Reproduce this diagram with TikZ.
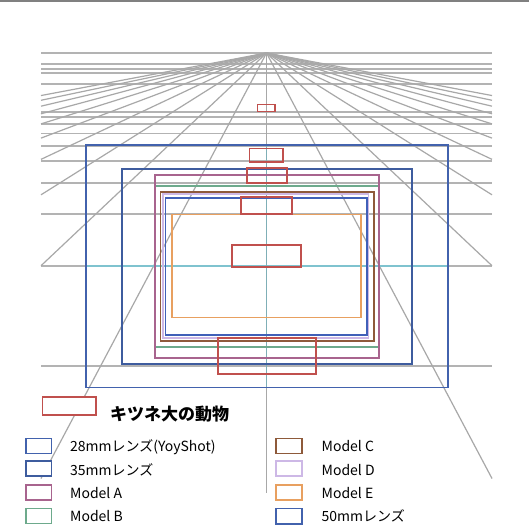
\documentclass[tikz,border=0pt]{standalone}
\usepackage{fontspec}
\newfontfamily\jp{Noto Sans CJK JP}
\definecolor{hgray}{HTML}{B3B3B3}
\definecolor{rgray}{HTML}{A8A8A8}
\definecolor{teal1}{HTML}{7FC3CF}
\definecolor{foxred}{HTML}{C0504D}
\definecolor{blueA}{HTML}{4262AD}
\definecolor{blueB}{HTML}{3E5C9E}
\definecolor{blueC}{HTML}{4060B8}
\definecolor{mauve}{HTML}{A8648E}
\definecolor{mgreen}{HTML}{6DAA8C}
\definecolor{mbrown}{HTML}{8E5A3A}
\definecolor{mlav}{HTML}{CDB8E6}
\definecolor{morange}{HTML}{E8A060}
\begin{document}
\begin{tikzpicture}[x=1pt,y=-1pt,
  hgrid/.style={draw=hgray,line width=1.8pt},
  rgrid/.style={draw=rgray,line width=1.2pt},
  frame/.style={line width=1.9pt},
  foxbox/.style={draw=foxred,line width=1.7pt},
  legbox/.style={line width=1.5pt,fill=white},
  legtext/.style={anchor=base west,inner sep=0pt,font=\jp\fontsize{14}{16}\selectfont},
]
\useasboundingbox (0,0) rectangle (529,530);
\fill[white] (0,0) rectangle (529,530);
\draw[draw=gray,line width=1.6pt] (0,0.8) -- (529,0.8);
% horizontal grid
\foreach \y in {53,64.3,68.7,73.3,83.7,111.7,117.3,124.2,133.5,146,160.7,182.7,214,266,366}
  \draw[hgrid] (41,\y) -- (492,\y);
% radial grid
\coordinate (vp) at (266.5,53);
\coordinate (vbot) at (266.5,493);
\foreach \k in {1,...,10} {
  \pgfmathsetmacro\dy{225.5/(0.53*\k)}
  \draw[rgrid] (vp) -- ++(-225.5,\dy);
  \draw[rgrid] (vp) -- ++(225.5,\dy);
}
\draw[rgrid] (vp) -- (vbot);
% teal axis lines
\draw[teal1,line width=1.8pt] (86,266) -- (448,266);
\draw[teal1!70!gray,line width=1.1pt] (266.5,146) -- (266.5,388);
% frames
\draw[frame,blueA] (86,145) rectangle (448,387.5);
\draw[frame,blueB] (122,169) rectangle (412,364);
\draw[frame,mgreen,line width=1.5pt] (155,186) rectangle (379,347);
\draw[frame,mauve] (155,175) rectangle (379,358);
\draw[frame,mbrown] (160.5,192) rectangle (374,341);
\draw[frame,mlav] (163,194) rectangle (368.5,338);
\draw[frame,blueC] (165.5,198) rectangle (367,335);
\draw[frame,morange] (172,214.5) rectangle (361,317.5);
% fox-sized animals
\draw[foxbox] (257.5,104.5) rectangle (275,111.5);
\draw[foxbox] (249.5,148.5) rectangle (283,162);
\draw[foxbox] (247,168) rectangle (287,183);
\draw[foxbox] (241,197) rectangle (292,214);
\draw[foxbox] (232,245) rectangle (301,267);
\draw[foxbox] (218,338) rectangle (316,374);
% legend
\draw[legbox,draw=foxred] (42.7,397) rectangle (96,415);
\node[anchor=base west,inner sep=0pt,font=\jp\bfseries\fontsize{17}{19}\selectfont] (foxlabel) at (110,420) {キツネ大の動物};
\draw[legbox,draw=blueA] (26,438.5) rectangle (51.5,453.5);
\node[legtext] (l28) at (70,451.7) {28mmレンズ(YoyShot)};
\draw[legbox,draw=blueB] (26,461) rectangle (51.5,476);
\node[legtext] (l35) at (70,475) {35mmレンズ};
\draw[legbox,draw=mauve] (26,485) rectangle (51.5,500);
\node[legtext] (lA) at (70,498.3) {Model A};
\draw[legbox,draw=mgreen] (26,508.5) rectangle (51.5,523.5);
\node[legtext] (lB) at (70,521) {Model B};
\draw[legbox,draw=mbrown] (276,438.5) rectangle (302,453.5);
\node[legtext] (lC) at (321.5,451) {Model C};
\draw[legbox,draw=mlav] (276,461) rectangle (302,476);
\node[legtext] (lD) at (321.5,475) {Model D};
\draw[legbox,draw=morange] (276,485) rectangle (302,500);
\node[legtext] (lE) at (321.5,498.3) {Model E};
\draw[legbox,draw=blueA] (276,508.5) rectangle (302,524);
\node[legtext] (l50) at (321.5,521) {50mmレンズ};
\end{tikzpicture}
\end{document}
